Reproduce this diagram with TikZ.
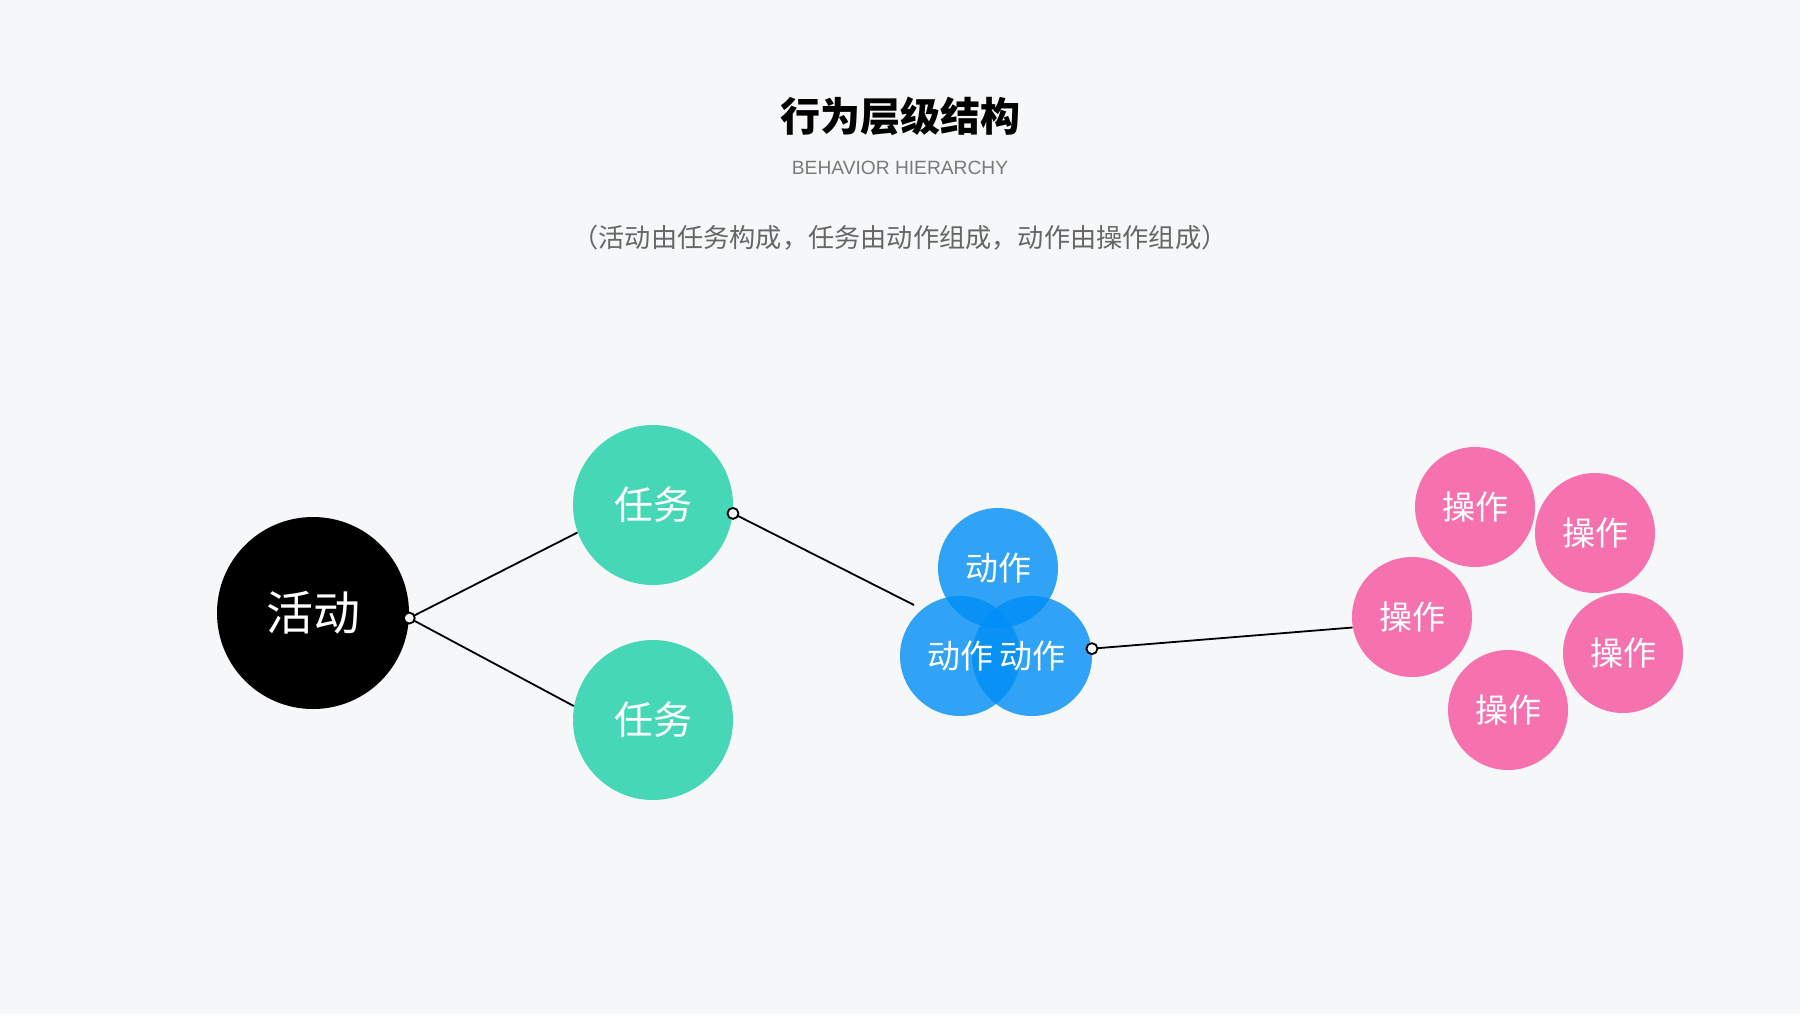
\documentclass[tikz,border=0pt]{standalone}
\usepackage{fontspec}
\setmainfont{Liberation Sans}
\newfontfamily\cjk{Noto Sans CJK SC}
\definecolor{bgc}{HTML}{F5F7F9}
\definecolor{actc}{HTML}{000000}
\definecolor{taskc}{HTML}{46D8B6}
\definecolor{movec}{HTML}{008EF6}
\definecolor{opc}{HTML}{F672AF}
\definecolor{subc}{HTML}{666666}
\definecolor{engc}{HTML}{7A7A7A}
\begin{document}
\begin{tikzpicture}[x=0.5pt,y=-0.5pt,
  bub/.style={circle,inner sep=0pt,text=white},
  actbub/.style={bub,fill=actc,minimum size=96pt,font=\cjk\fontsize{23.5pt}{26pt}\selectfont},
  taskbub/.style={bub,fill=taskc,minimum size=80pt,font=\cjk\fontsize{19.5pt}{22pt}\selectfont},
  movebub/.style={bub,fill=movec,fill opacity=0.8,minimum size=60pt},
  movelab/.style={text=white,inner sep=0pt,font=\cjk\fontsize{16.5pt}{19pt}\selectfont},
  opbub/.style={bub,fill=opc,minimum size=60pt,font=\cjk\fontsize{16.5pt}{19pt}\selectfont},
  link/.style={line width=0.9pt,black},
  joint/.style={circle,draw=black,line width=0.9pt,fill=bgc,inner sep=0pt,minimum size=5.5pt}]
\fill[bgc] (0,0) rectangle (1800,1014);
\useasboundingbox (0,0) rectangle (1800,1014);
% titles
\node[font=\cjk\bfseries\fontsize{20pt}{24pt}\selectfont] (title) at (900,116) {行为层级结构};
\node[text=engc,font=\fontsize{9.6pt}{12pt}\selectfont] (eng) at (900,168) {BEHAVIOR HIERARCHY};
\node[text=subc,font=\cjk\fontsize{13.1pt}{16pt}\selectfont] (sub) at (900,238) {（活动由任务构成，任务由动作组成，动作由操作组成）};
% activity and tasks
\node[actbub] (act) at (313,613) {活动};
\node[taskbub] (t1) at (653,505) {任务};
\node[taskbub] (t2) at (653,720) {任务};
% actions
\node[movebub] (a1) at (998,568) {};
\node[movebub] (a2) at (960,656) {};
\node[movebub] (a3) at (1032,656) {};
\node[movelab] (a1l) at (a1) {动作};
\node[movelab] (a2l) at (a2) {动作};
\node[movelab] (a3l) at (a3) {动作};
% operations
\node[opbub] (p1) at (1475,507) {操作};
\node[opbub] (p2) at (1595,533) {操作};
\node[opbub] (p3) at (1412,617) {操作};
\node[opbub] (p4) at (1623,653) {操作};
\node[opbub] (p5) at (1508,710) {操作};
% connectors
\coordinate (o1) at (act.-3);
\coordinate (o2) at (t1.-6);
\coordinate (o3) at (a3.7);
\coordinate (aend) at (914,605);
\draw[link] (o1) -- (t1.200);
\draw[link] (o1) -- (t2.170);
\draw[link] (o2) -- (aend);
\draw[link] (o3) -- (p3.190);
\node[joint] (j1) at (o1) {};
\node[joint] (j2) at (o2) {};
\node[joint] (j3) at (o3) {};
\end{tikzpicture}
\end{document}
